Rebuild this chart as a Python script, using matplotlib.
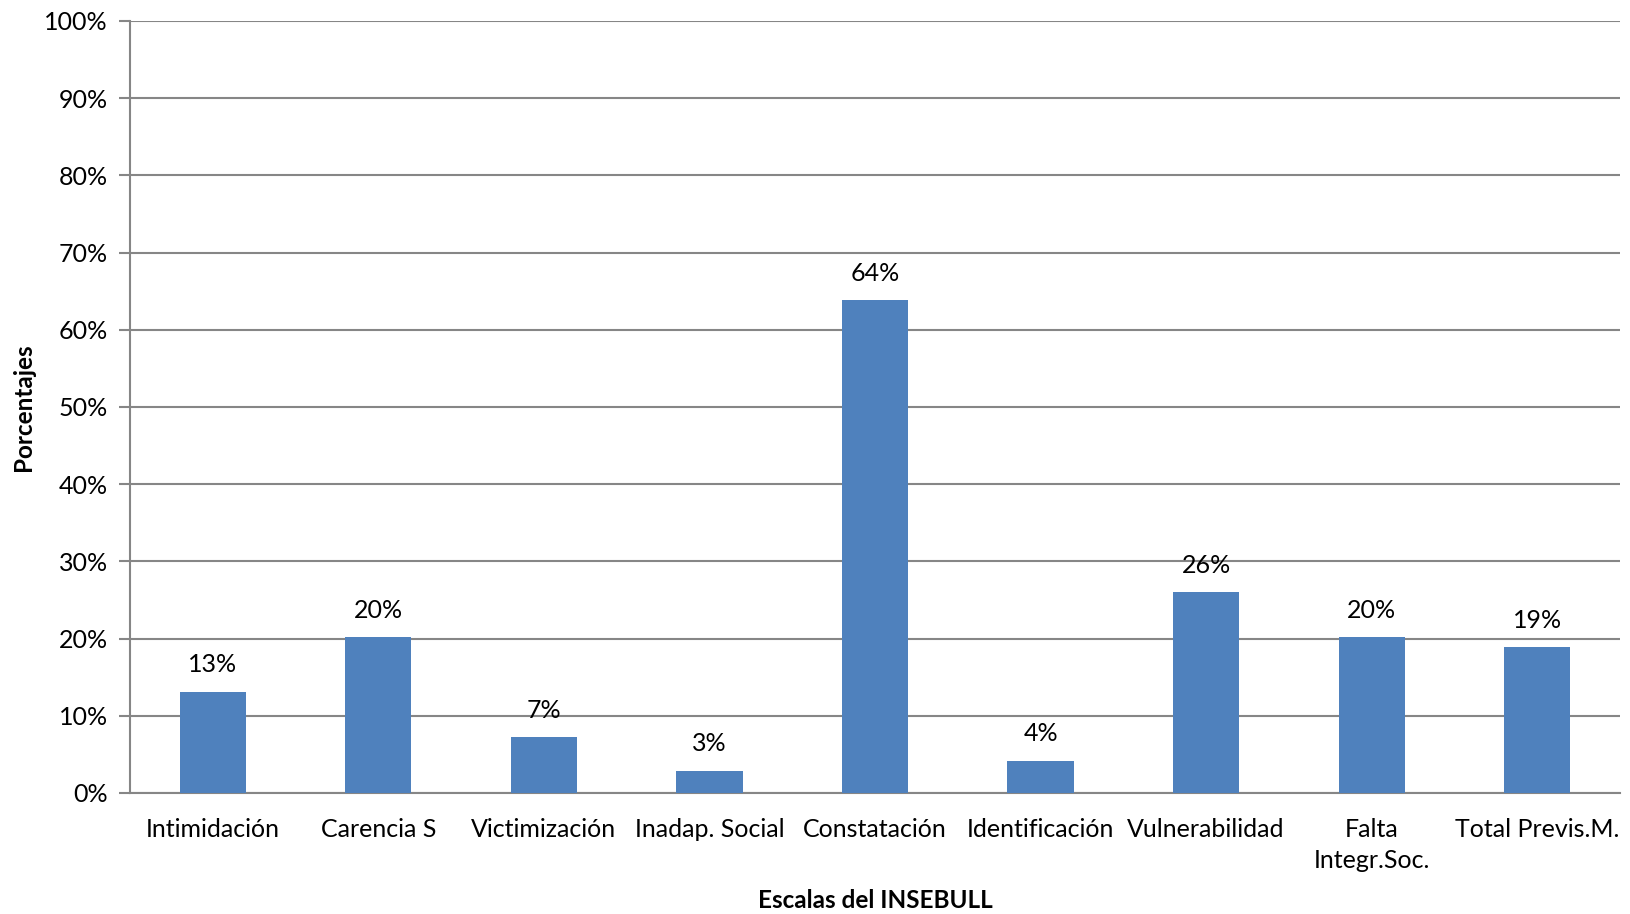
import matplotlib.pyplot as plt
from matplotlib.ticker import PercentFormatter

escalas = ['Intimidación', 'Carencia S', 'Victimización', 'Inadap. Social',
           'Constatación', 'Identificación', 'Vulnerabilidad',
           'Falta\nIntegr.Soc.', 'Total Previs.M.']
porcentajes = [13.1, 20.2, 7.2, 2.9, 63.8, 4.2, 26.0, 20.2, 18.9]

plt.rcParams['font.family'] = ['Lato', 'DejaVu Sans']

fig = plt.figure(figsize=(16.31, 9.14), dpi=100)
ax = fig.add_axes([130 / 1631, 1 - 793 / 914, 1490 / 1631, 772 / 914])

pos = range(len(escalas))
bars = ax.bar(pos, porcentajes, width=0.4, color='#4F81BD', zorder=3)
for b, v in zip(bars, porcentajes):
    ax.text(b.get_x() + b.get_width() / 2, v + 2.0, '{:.0f}%'.format(v),
            ha='center', va='bottom', fontsize=18, color='black')

ax.set_xlim(-0.5, len(escalas) - 0.5)
ax.set_ylim(0, 100)
ax.set_yticks(range(0, 101, 10))
ax.yaxis.set_major_formatter(PercentFormatter(decimals=0))
ax.set_xticks(list(pos))
ax.set_xticklabels(escalas, fontsize=18, linespacing=1.4)
ax.tick_params(axis='y', labelsize=18, length=8, width=1.5, color='#868686', pad=8)
ax.tick_params(axis='x', length=0, pad=18)

ax.grid(axis='y', color='#868686', linewidth=1.5, zorder=0)
for side in ['top', 'right']:
    ax.spines[side].set_visible(False)
for side in ['left', 'bottom']:
    ax.spines[side].set_color('#868686')
    ax.spines[side].set_linewidth(1.5)

ax.set_ylabel('Porcentajes', fontsize=17.5, fontweight='bold', va='center')
ax.set_xlabel('Escalas del INSEBULL', fontsize=17.5, fontweight='bold', va='center')
ax.yaxis.set_label_coords(-0.0715, 0.5)
ax.xaxis.set_label_coords(0.5, -0.139)

fig.savefig('out.png', dpi=100)
